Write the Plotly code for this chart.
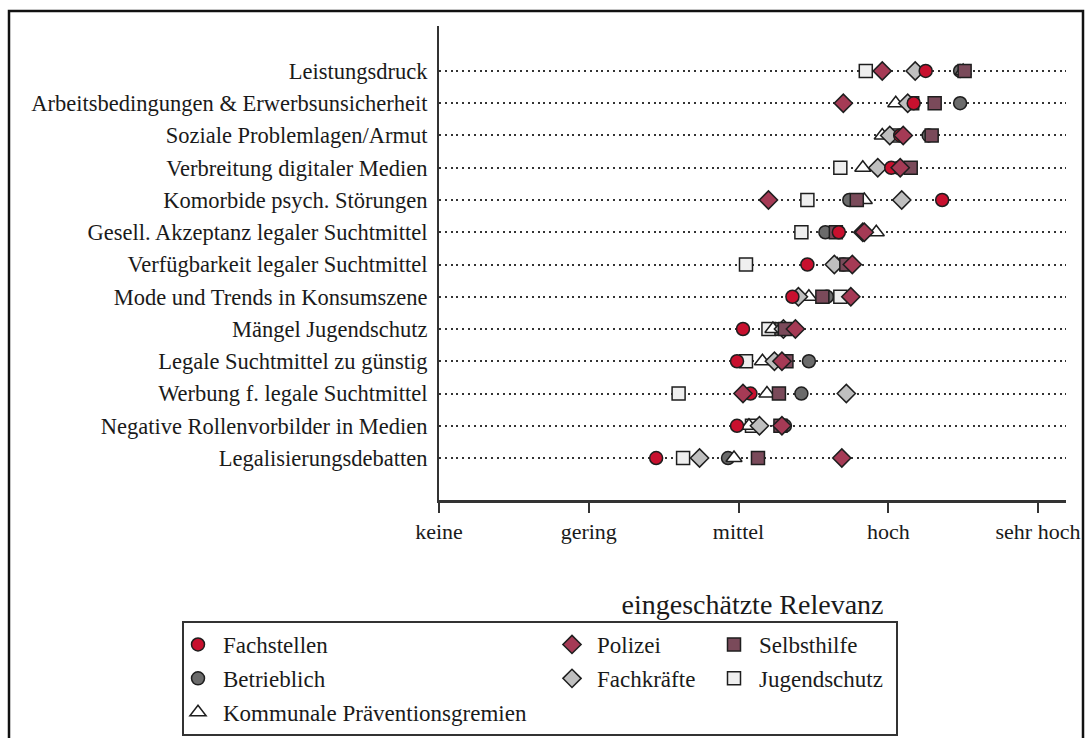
import plotly.graph_objects as go

categories = [
    "Leistungsdruck",
    "Arbeitsbedingungen & Erwerbsunsicherheit",
    "Soziale Problemlagen/Armut",
    "Verbreitung digitaler Medien",
    "Komorbide psych. Störungen",
    "Gesell. Akzeptanz legaler Suchtmittel",
    "Verfügbarkeit legaler Suchtmittel",
    "Mode und Trends in Konsumszene",
    "Mängel Jugendschutz",
    "Legale Suchtmittel zu günstig",
    "Werbung f. legale Suchtmittel",
    "Negative Rollenvorbilder in Medien",
    "Legalisierungsdebatten",
]

tick_values = [1, 2, 3, 4, 5]
tick_labels = ["keine", "gering", "mittel", "hoch", "sehr hoch"]

fachstellen = [4.25, 4.17, 4.08, 4.02, 4.36, 3.67, 3.46, 3.36, 3.03, 2.99, 3.08, 2.99, 2.45]
betrieblich = [4.48, 4.48, 4.27, 4.07, 3.74, 3.58, 3.70, 3.59, 3.25, 3.47, 3.42, 3.31, 2.93]
kommunale = [4.50, 4.05, 3.96, 3.83, 3.84, 3.92, 3.66, 3.47, 3.23, 3.16, 3.19, 3.07, 2.97]
polizei = [3.96, 3.70, 4.10, 4.08, 3.20, 3.84, 3.76, 3.75, 3.38, 3.29, 3.03, 3.29, 3.69]
fachkraefte = [4.18, 4.13, 4.01, 3.93, 4.09, 3.83, 3.64, 3.40, 3.30, 3.24, 3.72, 3.14, 2.74]
selbsthilfe = [4.51, 4.31, 4.29, 4.15, 3.79, 3.65, 3.72, 3.56, 3.31, 3.32, 3.27, 3.28, 3.13]
jugendschutz = [3.85, 4.16, 4.05, 3.68, 3.46, 3.42, 3.05, 3.68, 3.20, 3.05, 2.60, 3.09, 2.63]

W, H = 1085, 738
L, R, T, B = 439, 19, 26, 238
PW = W - L - R
PH = H - T - B


def px(x):
    return (x - L) / PW


def py(y):
    return (H - B - y) / PH


FONT = "Liberation Serif, Times New Roman, serif"
EDGE = dict(color="#1e1e1e", width=1.5)
TXT = "#1a1a1a"

# draw order (bottom to top); legend placement via legend/legendrank
series = [
    ("Betrieblich", betrieblich, "circle", "#6b6b6b", 13, "legend", 2),
    ("Jugendschutz", jugendschutz, "square", "#efefef", 13, "legend3", 2),
    ("Kommunale Präventionsgremien", kommunale, "triangle-up", "#ffffff", 14, "legend", 3),
    ("Fachkräfte", fachkraefte, "diamond", "#bfbfbf", 14, "legend2", 2),
    ("Selbsthilfe", selbsthilfe, "square", "#7a4a5a", 13, "legend3", 1),
    ("Fachstellen", fachstellen, "circle", "#c8102e", 13, "legend", 1),
    ("Polizei", polizei, "diamond", "#a53a55", 14, "legend2", 1),
]

fig = go.Figure()
for name, vals, sym, col, size, leg, rank in series:
    fig.add_trace(go.Scatter(
        x=vals, y=categories, mode="markers", name=name,
        marker=dict(symbol=sym, color=col, size=size, line=EDGE),
        legend=leg, legendrank=rank, legendgroup=name, cliponaxis=False,
    ))

legend_common = dict(
    bgcolor="rgba(0,0,0,0)", borderwidth=0, orientation="v",
    xanchor="left", yanchor="top",
    font=dict(family=FONT, size=23, color=TXT),
    tracegroupgap=1, itemwidth=40, itemclick=False, itemdoubleclick=False,
)

fig.update_layout(
    width=W, height=H,
    margin=dict(l=L, r=R, t=T, b=B, autoexpand=False),
    paper_bgcolor="white", plot_bgcolor="white",
    font=dict(family=FONT, size=22, color=TXT),
    showlegend=True,
    legend=dict(x=px(173), y=py(623), **legend_common),
    legend2=dict(x=px(547), y=py(623), **legend_common),
    legend3=dict(x=px(709), y=py(623), **legend_common),
    xaxis=dict(
        range=[1, 5.187], tickvals=tick_values, ticktext=tick_labels,
        showline=True, linecolor="#333333", linewidth=2.5,
        ticks="outside", ticklen=10, tickwidth=2, tickcolor="#333333",
        showgrid=False, zeroline=False,
        tickfont=dict(family=FONT, size=22, color=TXT),
        title=dict(text="eingeschätzte Relevanz", standoff=52,
                   font=dict(family=FONT, size=28, color=TXT)),
    ),
    yaxis=dict(
        type="category", categoryorder="array", categoryarray=categories,
        range=[13.302, -1.395],
        showline=True, linecolor="#333333", linewidth=2,
        ticks="", ticklabelstandoff=5,
        showgrid=True, gridcolor="#333333", gridwidth=2, griddash="2px,3.8px",
        zeroline=False,
        tickfont=dict(family=FONT, size=22.5, color=TXT),
    ),
    shapes=[
        dict(type="rect", xref="paper", yref="paper",
             x0=px(9), x1=px(1083), y0=py(745), y1=py(11),
             line=dict(color="#111111", width=2.5), fillcolor="rgba(0,0,0,0)", layer="below"),
        dict(type="rect", xref="paper", yref="paper",
             x0=px(183), x1=px(897), y0=py(735), y1=py(622),
             line=dict(color="#333333", width=2), fillcolor="rgba(0,0,0,0)", layer="below"),
    ],
)

fig.write_html(
    "out.html",
    config={"displayModeBar": False},
    post_script="document.body.style.margin='0';document.body.style.overflow='hidden';",
)
